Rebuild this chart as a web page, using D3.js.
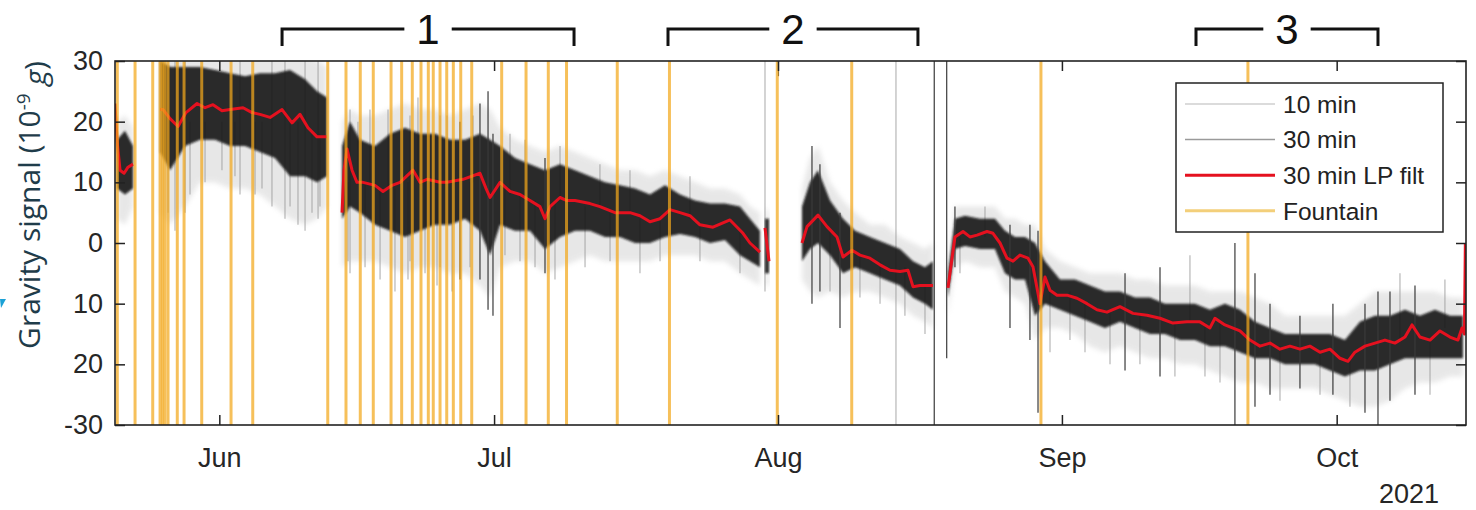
<!DOCTYPE html>
<html>
<head>
<meta charset="utf-8">
<script src="https://cdn.jsdelivr.net/npm/d3@7"></script>
<style>
  body { margin: 0; background: #fff; }
  svg { font-family: "Liberation Sans", Arial, sans-serif; }
</style>
</head>
<body>
<svg id="chart"></svg>
<script>
// all times are days counted from 2021-05-01 (Jun 1 = 31)
const xDomainDays = [19.61, 167.12];
const monthTickDays = [31, 61, 92, 123, 153];
const monthLabels = ['Jun', 'Jul', 'Aug', 'Sep', 'Oct'];
const yTicks = [30, 20, 10, 0, -10, -20, -30];
const yTickLabels = ['30', '20', '10', '0', '10', '20', '-30'];
const legendLabels = ['10 min', '30 min', '30 min LP filt', 'Fountain'];

// 30 min low-pass filtered signal, one array per recording segment: [day, value]
const lpFilt = [
  [[19.61,23],[19.83,17],[20.16,12],[20.60,11.5],[21.03,12.5],[21.58,13]],
  [[24.53,22],[24.85,22],[25.62,20.5],[26.49,19.2],[27.36,21.5],[28.57,23],[29.44,22.3],[30.31,22.8],
   [31.29,21.8],[32.17,22],[33.59,22.3],[34.57,21.5],[35.44,21.2],[36.54,20.7],[37.85,22],[38.94,19.8],
   [39.81,21.2],[40.68,19],[41.67,17.5],[42.76,17.5]],
  [[44.40,5],[44.61,12],[44.94,15.5],[45.49,12],[46.03,10],[46.69,10],[48.00,9.5],[48.87,8.5],[49.86,9.5],
   [50.73,10],[52.15,12],[52.91,10],[53.68,10.5],[55.10,10],[55.86,10],[57.61,10.5],[59.46,11.5],[60.12,9],
   [60.56,7.5],[61.65,10],[62.74,8.5],[63.83,8],[64.92,7],[66.01,6],[66.56,4],[67.11,6],[68.20,7.5],
   [68.96,7],[69.84,7],[71.47,6.5],[72.56,6],[74.20,5],[75.84,5],[76.93,4.5],[78.02,3.5],[79.12,4],
   [80.21,5.5],[81.30,5],[82.39,4.5],[83.48,3],[84.90,2.6],[86.76,3.8],[88.18,1.6],[88.94,0],[90.03,-1.5]],
  [[90.58,2.5],[91.02,-3]],
  [[94.62,0],[95.17,2.7],[96.37,4.6],[97.35,2.7],[98.44,1],[99.10,-2.3],[100.08,-1.2],[100.95,-2],
   [102.04,-2.5],[103.14,-3.6],[104.23,-4.5],[105.32,-4.7],[106.19,-4.5],[106.74,-7.2],[107.50,-7],[108.92,-7]],
  [[110.56,-7.4],[111.32,1],[112.20,1.9],[112.96,1],[113.73,1.3],[114.82,1.9],[115.47,1.6],[116.24,0],
   [117.00,-2.5],[117.66,-3],[118.42,-2],[119.30,-2.5],[119.84,-3.9],[120.39,-8.3],[120.60,-10],[121.15,-5.6],
   [121.70,-7.8],[122.46,-8.6],[123.55,-8.6],[124.65,-9.1],[125.74,-10],[126.83,-11],[127.92,-11.4],
   [129.34,-10.5],[130.76,-11.6],[132.29,-11.9],[133.71,-12.4],[135.12,-13.2],[136.65,-13],[138.07,-13],
   [139.16,-14],[139.71,-12.4],[140.80,-13.5],[142.44,-14.5],[143.53,-16],[144.62,-17],[145.72,-16.5],
   [146.81,-17.5],[147.90,-17],[148.99,-17.5],[150.08,-17],[151.18,-18],[152.27,-17.5],[153.36,-19],
   [154.23,-19.5],[154.99,-18],[156.09,-17],[157.18,-16.5],[158.27,-16],[159.36,-16.5],[160.46,-15.5],
   [161.22,-13.5],[162.09,-15.5],[163.19,-16],[164.28,-14.5],[165.37,-15.5],[166.24,-16],[166.68,-14],
   [166.95,-15],[167.05,0]]
];

// spread of the raw signals per segment: [day, 10 min low, 30 min low, 30 min high, 10 min high]
const spread = [
  [[19.83,4,9,17,20],[20.70,3,8,18.5,21],[21.58,6,9,16,19]],
  [[24.53,5,15,30,31],[25.62,3,12,29,31],[27.26,6,16,29,31],[28.89,10,17,29,31],[30.53,10,17,28.5,31],
   [32.17,9,16,28,31],[33.81,9,16,27.5,31],[35.44,8,15,28,31],[37.08,6,14,28,31],[38.72,4,11,28.5,31],
   [40.36,3,11,27,31],[41.67,4,10,25,30],[42.76,6,11,24,29]],
  [[44.40,-4,4,16,20],[45.27,-3,6,20,22],[46.36,-3,5,17,21],[48.00,-3,3,16,21],[49.64,-4,2,18,22],
   [51.27,-5,1,19,23],[52.91,-4,2,18,22],[54.55,-4,3,18,22],[56.19,-5,3,17,21],[57.83,-5,4,17,22],
   [59.46,-7,2,18,23],[60.56,-9,-2,17,22],[61.65,-4,3,16,19],[63.28,-3,2,14,17],[64.92,-3,2,13,16],
   [66.56,-5,-1,12,15],[68.20,-4,1,13,16],[69.84,-3,2,12,15],[71.47,-2,2,11,14],[73.11,-3,1,10,13],
   [74.75,-3,1,9.5,12],[76.39,-3,0,9,12],[78.02,-3,0,8,11],[79.66,-2,1,9.5,12],[81.30,-2,1.5,8,11],
   [82.94,-2,1,7,10],[84.57,-3,0,6.5,9],[86.21,-3,0.5,6.5,9],[87.85,-5,-2,6,8],[88.94,-6,-3,4,6],
   [90.03,-7,-4,2,5]],
  [[90.58,-7,-5,4,6],[91.02,-7,-5,4,5]],
  [[94.62,-6,-3,6,9],[95.49,-8,-1,10,14],[96.37,-9,0,12,16],[97.68,-8,-2,7,10],[99.10,-9,-5,4,7],
   [100.41,-8,-4,2,5],[102.04,-8,-5,1,3],[103.68,-9,-6,0,3],[105.32,-10,-7,-1,1],[106.74,-12,-9,-3,0],
   [108.05,-13,-10,-4,-1],[108.92,-14,-11,-3,0]],
  [[110.56,-12,-9,-5,-3],[111.32,-4,-1,4,6],[112.42,-3,-0.5,4.5,6],[114.05,-4,-1,4,6],[115.69,-4,-1,4,6],
   [116.78,-8,-5,2,4],[117.88,-9,-6,1,4],[118.97,-10,-6,1,3],[120.06,-16,-12,0,3],[121.15,-14,-10,-3,-1],
   [122.79,-14,-11,-6,-3],[124.43,-15,-12,-6,-4],[126.06,-17,-13,-7,-5],[127.70,-18,-14,-8,-5],
   [129.34,-17,-13,-8,-5],[130.98,-18,-14,-9,-6],[132.61,-19,-15,-9,-6],[134.25,-19,-15,-10,-7],
   [135.89,-20,-16,-10,-7],[137.53,-20,-16,-10,-7],[139.16,-21,-17,-11,-8],[140.80,-22,-17,-10,-8],
   [142.44,-23,-18,-11,-8],[144.08,-23,-19,-13,-9],[145.72,-24,-19,-14,-10],[147.35,-24,-20,-15,-12],
   [148.99,-24,-20,-15,-12],[150.63,-24,-20,-15,-12],[152.27,-25,-21,-15,-12],[153.90,-26,-22,-16,-12],
   [155.54,-27,-21,-13,-10],[157.18,-27,-21,-12,-8],[158.82,-26,-20,-12,-8],[160.46,-24,-19,-11,-8],
   [162.09,-23,-19,-12,-8],[163.73,-23,-19,-11,-8],[165.37,-22,-19,-12,-9],[166.79,-22,-19,-12,-9]]
];

// single outliers of the 10 min series: [day, low, high]
const spikes10 = [
  [104.88,-30,30],[90.58,-8,30],[26.16,2,30],[27.26,5,30],[33.26,8,30],[36.75,6,30],[38.17,4,30],
  [40.36,2,30],[41.78,4,30],[45.27,-5,22],[55.10,-4,21],[51.82,-3,21],
  [25.40,5,20],[27.80,8,20],[29.44,10,20],[31.29,12,20],[32.71,11,20],[34.90,8,20],[35.66,9,20],
  [38.72,6,20],[39.59,3,20],[41.12,5,18],[41.99,6,18],
  [45.05,-3,10],[46.91,-4,10],[48.55,-6,9],[50.18,-8,9],[51.60,-6,10],[53.46,-5,10],[54.77,-7,10],
  [56.41,-8,10],[58.37,-4,10],[62.19,-2,9],[63.83,-3,8],[65.47,-4,7],[67.65,-6,7],[70.93,-4,6],
  [73.66,-3,5],[76.93,-5,4],[79.12,-3,4],[83.48,-3,3],[87.85,-5,2],
  [46.14,10,20],[47.45,10,22],[49.42,9,22],[52.69,10,24],[55.86,10,21],[58.70,10,21],[62.74,8,18],
  [64.38,8,17],[68.20,7,16],[72.56,6,13],[75.84,5,12],[82.39,4,11],
  [97.68,-8,2],[100.95,-9,-2],[103.14,-10,-3],[105.86,-12,-4],[108.05,-15,-7],
  [111.87,-5,1],[114.60,1,6],[121.70,-18,-8],[123.88,-16,-8],[125.52,-18,-10],[128.25,-20,-11],
  [131.52,-20,-12],[135.34,-22,-13],[136.98,-13,-2],[138.62,-22,-13],[140.26,-23,-13],[146.81,-26,-17],
  [151.18,-25,-18],[154.45,-27,-19],[159.91,-16,-5],[163.19,-25,-16],[164.82,-14,-6]
];
// single outliers of the 30 min series: [day, low, high]
const spikes30 = [
  [109.06,-30,30],[110.42,-19,30],[92.05,27.5,30],[141.89,-30,0],[157.51,-30,-8],[120.39,-28,2],
  [152.59,-25,-10],[148.99,-24,-12],[129.89,-21,-5],[133.71,-22,-4],[156.09,-28,-10],[158.82,-26,-8],
  [161.55,-25,-7],[144.08,-27,-5],[145.72,-25,-10],[59.46,-6,23],[60.34,-11,25],[60.88,-12,18],
  [66.56,-5,14],[57.28,-6,20],[95.71,-10,16],[96.58,-8,13],[98.77,-14,5],[111.32,-4,6],
  [119.51,-16,3],[117.33,-14,3]
];

// fountain operation times
const fountainDays = [
  19.86,21.80,23.73,24.53,24.80,25.07,25.40,26.41,27.15,29.08,32.28,34.65,42.84,44.83,46.39,47.81,
  49.75,50.91,52.07,53.02,53.82,54.36,55.10,55.83,56.55,57.36,58.56,61.83,64.49,66.92,68.91,74.45,
  80.15,91.92,100.05,120.71,143.31
];

// marked periods above the plot
const periods = [
  {label: '1', start: 37.85, end: 69.73},
  {label: '2', start: 79.99, end: 107.28},
  {label: '3', start: 137.64, end: 157.51}
];

const W = 1476, H = 510;
const margin = {top: 61, right: 10, bottom: 85, left: 115};
const width = W - margin.left - margin.right;
const height = H - margin.top - margin.bottom;
const day0 = Date.UTC(2021, 4, 1);
const toDate = d => new Date(day0 + d * 864e5);

const svg = d3.select('#chart').attr('width', W).attr('height', H);

const defs = svg.append('defs');
defs.append('clipPath').attr('id', 'plotClip')
  .append('rect').attr('width', width).attr('height', height);
defs.append('filter').attr('id', 'soft')
  .append('feGaussianBlur').attr('stdDeviation', 1.2);
defs.append('filter').attr('id', 'softer')
  .append('feGaussianBlur').attr('stdDeviation', 2.5);

const x = d3.scaleUtc().domain(xDomainDays.map(toDate)).range([0, width]);
const y = d3.scaleLinear().domain([-30, 30]).range([height, 0]);

const chart = svg.append('g').attr('transform', `translate(${margin.left},${margin.top})`);
const plot = chart.append('g').attr('clip-path', 'url(#plotClip)');

// 10 min spread
const area10 = d3.area().x(d => x(toDate(d[0]))).y0(d => y(d[1])).y1(d => y(d[4]));
plot.selectAll('.spread10').data(spread).enter().append('path')
  .attr('class', 'spread10')
  .attr('d', area10)
  .attr('fill', '#bdbdbd')
  .attr('opacity', 0.35)
  .attr('filter', 'url(#softer)');

plot.selectAll('.spike10').data(spikes10).enter().append('line')
  .attr('class', 'spike10')
  .attr('x1', d => x(toDate(d[0]))).attr('x2', d => x(toDate(d[0])))
  .attr('y1', d => y(d[1])).attr('y2', d => y(d[2]))
  .attr('stroke', '#9c9c9c').attr('stroke-width', 1.1).attr('opacity', 0.8);

// 30 min spread
const area30 = d3.area().x(d => x(toDate(d[0]))).y0(d => y(d[2])).y1(d => y(d[3]));
plot.selectAll('.spread30').data(spread).enter().append('path')
  .attr('class', 'spread30')
  .attr('d', area30)
  .attr('fill', '#141414')
  .attr('opacity', 0.9)
  .attr('filter', 'url(#soft)');

plot.selectAll('.spike30').data(spikes30).enter().append('line')
  .attr('class', 'spike30')
  .attr('x1', d => x(toDate(d[0]))).attr('x2', d => x(toDate(d[0])))
  .attr('y1', d => y(d[1])).attr('y2', d => y(d[2]))
  .attr('stroke', '#3a3a3a').attr('stroke-width', 1.2);

// LP filtered line
const line = d3.line().x(d => x(toDate(d[0]))).y(d => y(d[1]));
plot.selectAll('.lp').data(lpFilt).enter().append('path')
  .attr('class', 'lp')
  .attr('d', line)
  .attr('fill', 'none')
  .attr('stroke', '#e5111f')
  .attr('stroke-width', 3)
  .attr('stroke-linejoin', 'round');

// fountain markers
plot.selectAll('.fountain').data(fountainDays).enter().append('line')
  .attr('class', 'fountain')
  .attr('x1', d => x(toDate(d))).attr('x2', d => x(toDate(d)))
  .attr('y1', 0).attr('y2', height)
  .attr('stroke', '#f3a81c')
  .attr('stroke-width', 3)
  .attr('opacity', 0.72);

// axes
const tickFont = g => g.selectAll('text')
  .style('font-size', '27px').attr('fill', '#262626');

chart.append('g').attr('transform', `translate(0,${height})`)
  .call(d3.axisBottom(x).tickValues(monthTickDays.map(toDate))
    .tickFormat((d, i) => monthLabels[i]).tickSize(-10).tickPadding(23))
  .call(g => g.select('.domain').remove())
  .call(g => g.selectAll('line').attr('stroke', '#222').attr('stroke-width', 1.5))
  .call(tickFont);

chart.append('g')
  .call(d3.axisTop(x).tickValues(monthTickDays.map(toDate)).tickFormat('').tickSize(-10))
  .call(g => g.select('.domain').remove())
  .call(g => g.selectAll('line').attr('stroke', '#222').attr('stroke-width', 1.5));

chart.append('g')
  .call(d3.axisLeft(y).tickValues(yTicks).tickFormat((d, i) => yTickLabels[i]).tickSize(-10).tickPadding(12))
  .call(g => g.select('.domain').remove())
  .call(g => g.selectAll('line').attr('stroke', '#222').attr('stroke-width', 1.5))
  .call(tickFont);

chart.append('g').attr('transform', `translate(${width},0)`)
  .call(d3.axisRight(y).tickValues(yTicks).tickFormat('').tickSize(-10))
  .call(g => g.select('.domain').remove())
  .call(g => g.selectAll('line').attr('stroke', '#222').attr('stroke-width', 1.5));

chart.append('rect')
  .attr('width', width).attr('height', height)
  .attr('fill', 'none').attr('stroke', '#222').attr('stroke-width', 1.6);

chart.append('text')
  .attr('x', width - 57).attr('y', height + 78)
  .attr('text-anchor', 'middle')
  .style('font-size', '27px').attr('fill', '#262626')
  .text('2021');

// y axis title
const yTitle = svg.append('text')
  .attr('transform', 'translate(40,205) rotate(-90)')
  .attr('text-anchor', 'middle')
  .style('font-family', '"Open Sans", sans-serif')
  .style('font-size', '30px')
  .attr('fill', '#1f3c4a');
yTitle.append('tspan').text('Gravity signal (10');
yTitle.append('tspan').attr('dy', '-0.55em').style('font-size', '19px').text('-9');
yTitle.append('tspan').attr('dy', '0.55em').text(' ');
yTitle.append('tspan').style('font-style', 'italic').text('g');
yTitle.append('tspan').text(')');

svg.append('path').attr('d', 'M0,299L6,299L1,308Z').attr('fill', '#1ba1d6');

// period brackets
periods.forEach(p => {
  const x0 = margin.left + x(toDate(p.start));
  const x1 = margin.left + x(toDate(p.end));
  const xm = (x0 + x1) / 2;
  const t = svg.append('text')
    .attr('x', xm).attr('y', 44)
    .attr('text-anchor', 'middle')
    .style('font-size', '42px').attr('fill', '#111')
    .text(p.label);
  const hw = t.node().getBBox().width / 2 + 12;
  svg.append('path')
    .attr('d', `M${x0},46V29H${xm - hw}M${xm + hw},29H${x1}V46`)
    .attr('fill', 'none').attr('stroke', '#111').attr('stroke-width', 3);
});

// legend
const legend = svg.append('g').attr('transform', 'translate(1176,83)');
legend.append('rect').attr('width', 267).attr('height', 149)
  .attr('fill', '#fff').attr('stroke', '#222').attr('stroke-width', 1.5);
const legendStroke = ['#cfcfcf', '#9a9a9a', '#e5111f', '#f3cf7a'];
const legendWidth = [1.5, 1.5, 3, 3];
const rows = legend.selectAll('.item').data(legendLabels).enter().append('g')
  .attr('class', 'item')
  .attr('transform', (d, i) => `translate(0,${21 + i * 35.6})`);
rows.append('line').attr('x1', 9).attr('x2', 99)
  .attr('stroke', (d, i) => legendStroke[i])
  .attr('stroke-width', (d, i) => legendWidth[i]);
rows.append('text').attr('x', 107).attr('dy', '0.36em')
  .style('font-size', '24.5px').attr('fill', '#222')
  .text(d => d);
</script>
</body>
</html>
